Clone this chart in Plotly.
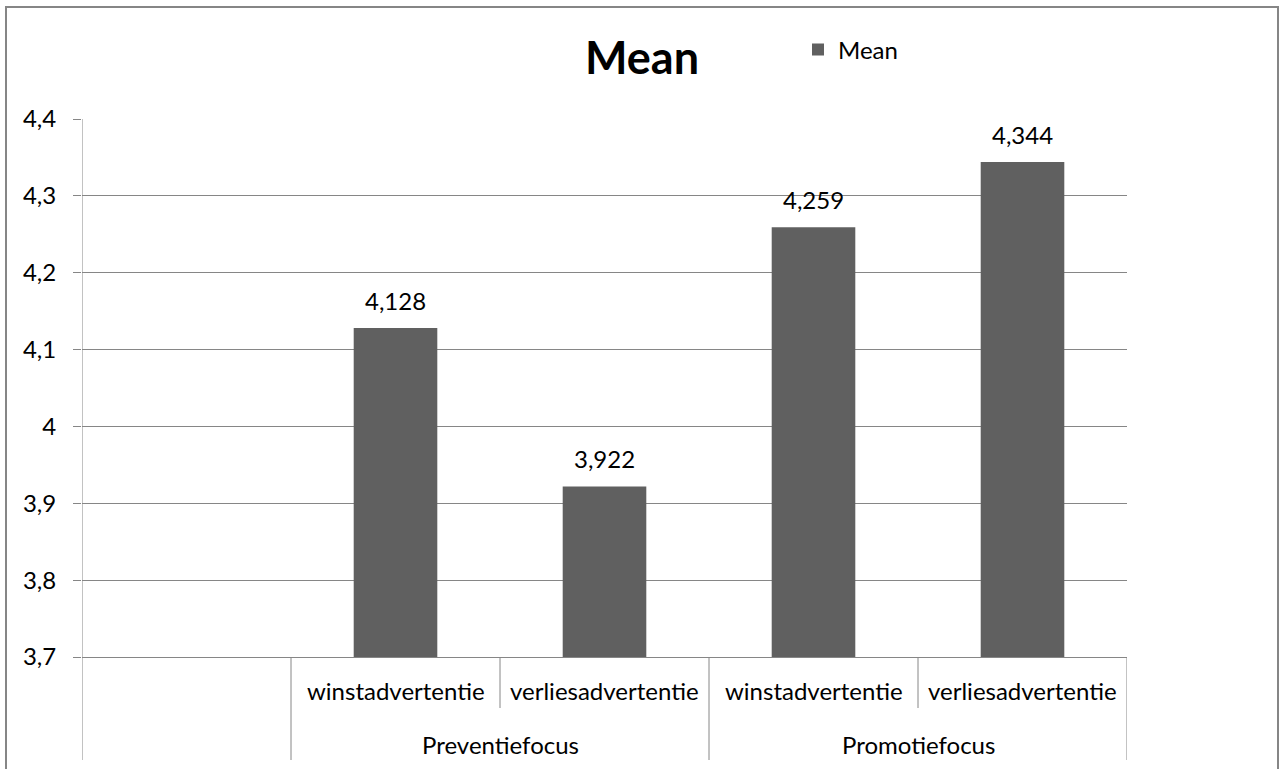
import plotly.graph_objects as go

# Chart data
groups = ["", "Preventiefocus", "Preventiefocus", "Promotiefocus", "Promotiefocus"]
subcats = ["", "winstadvertentie", "verliesadvertentie", "winstadvertentie", "verliesadvertentie"]
means = [None, 4.128, 3.922, 4.259, 4.344]
y_ticks = [3.7, 3.8, 3.9, 4.0, 4.1, 4.2, 4.3, 4.4]
series_name = "Mean"

W, H = 1282, 769
L, R, T, B = 82, 1127, 119, 657  # plot area in pixels
FONT = "Lato"
FS = 24
GRID = "#868686"
BAR = "#606060"


def xp(px):
    return (px - L) / (R - L)


def yp(py):
    return (B - py) / (B - T)


xs = list(range(len(subcats)))

fig = go.Figure()
fig.add_trace(go.Bar(
    x=xs, y=means, name=series_name, width=0.4,
    marker=dict(color=BAR, line=dict(width=0)),
    showlegend=True, hoverinfo="skip",
))

shapes = []
annotations = []

# outer chart border
shapes.append(dict(type="rect", xref="paper", yref="paper",
                   x0=xp(6), x1=xp(1278), y0=yp(800), y1=yp(7),
                   line=dict(color=GRID, width=2), layer="below"))

# vertical axis line running down through the category labels
shapes.append(dict(type="line", xref="x", yref="paper", x0=-0.5, x1=-0.5,
                   y0=yp(760), y1=1, line=dict(color=GRID, width=1)))

# category separators under the axis
n = len(subcats)
for i in range(1, n + 1):
    edge = i == n
    long_line = edge or groups[i - 1] != groups[i]
    shapes.append(dict(type="line", xref="x", yref="paper", x0=i - 0.5, x1=i - 0.5,
                       y0=yp(760 if long_line else 708), y1=0,
                       line=dict(color=GRID, width=1)))

label_font = dict(family=FONT, size=FS, color="#000")

# sub-category labels
for i, s in enumerate(subcats):
    if s:
        annotations.append(dict(x=i, y=yp(690), xref="x", yref="paper", text=s,
                                showarrow=False, yanchor="middle", font=label_font))

# group labels centred over their span
seen = []
for g in groups:
    if g and g not in seen:
        seen.append(g)
for g in seen:
    idx = [i for i, v in enumerate(groups) if v == g]
    annotations.append(dict(x=(idx[0] + idx[-1]) / 2, y=yp(744), xref="x", yref="paper",
                            text=g, showarrow=False, yanchor="middle", font=label_font))

# value labels above bars
for i, v in enumerate(means):
    if v is not None:
        annotations.append(dict(x=i, y=v, xref="x", yref="y",
                                text=f"{v:.3f}".replace(".", ","), showarrow=False,
                                yanchor="middle", yshift=28, font=label_font))

# chart title
annotations.append(dict(x=xp(642), y=yp(57), xref="paper", yref="paper", text="<b>Mean</b>",
                        showarrow=False, xanchor="center", yanchor="middle",
                        font=dict(family=FONT, size=45, color="#000")))

fig.update_layout(
    width=W, height=H, autosize=False,
    margin=dict(l=L, r=W - R, t=T, b=H - B, pad=0),
    paper_bgcolor="white", plot_bgcolor="white",
    separators=",.",
    showlegend=True,
    legend=dict(x=xp(798), y=yp(50), xanchor="left", yanchor="middle",
                font=label_font, bgcolor="rgba(0,0,0,0)", itemwidth=30),
    xaxis=dict(range=[-0.5, n - 0.5], showticklabels=False, showgrid=False,
               zeroline=False, showline=True, linecolor=GRID, linewidth=1, ticks=""),
    yaxis=dict(range=[y_ticks[0], y_ticks[-1]], tickvals=y_ticks, showgrid=True,
               gridcolor=GRID, gridwidth=1, zeroline=False, showline=False,
               ticks="outside", ticklen=8, tickcolor=GRID, tickwidth=1,
               ticklabelstandoff=12, tickfont=label_font),
    shapes=shapes, annotations=annotations,
    font=dict(family=FONT),
)

fig.write_html("out.html")
